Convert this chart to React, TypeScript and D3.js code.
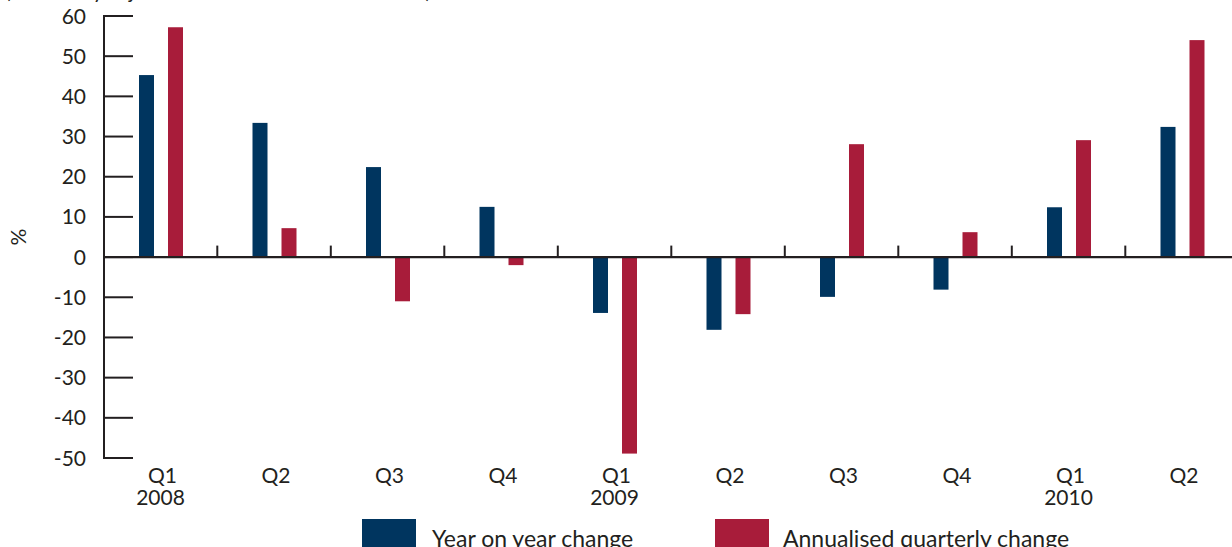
import React from "react";
import * as d3 from "d3";

const quarters = ["Q1", "Q2", "Q3", "Q4", "Q1", "Q2", "Q3", "Q4", "Q1", "Q2"];
const years = ["2008", "", "", "", "2009", "", "", "", "2010", ""];
const yearOnYear = [45.3, 33.4, 22.4, 12.5, -13.9, -18.1, -9.9, -8.1, 12.4, 32.4];
const annualised = [57.2, 7.2, -11.0, -2.0, -48.9, -14.2, 28.1, 6.2, 29.1, 54.0];
const seriesNames = ["Year on year change", "Annualised quarterly change"];
const seriesColors = ["#00355f", "#a81c3a"];
const yTicks = [60, 50, 40, 30, 20, 10, 0, -10, -20, -30, -40, -50];
const subtitle = "(Seasonally adjusted data in current dollar terms)";

const W = 1232;
const H = 547;
const FONT = "Lato, 'Open Sans', sans-serif";
const INK = "#231f20";

export default function App() {
  const idx = quarters.map((_, i) => String(i));
  const x = d3.scaleBand<string>().domain(idx).range([103.8, 103.8 + 113.5 * 10]).padding(0);
  const xi = d3
    .scaleBand<string>()
    .domain(["0", "1"])
    .range([35.2, 35.2 + 44])
    .paddingInner(14 / 29)
    .paddingOuter(0);
  const y = d3.scaleLinear().domain([-50, 60]).range([458, 16]);
  const y0 = y(0);
  const series = [yearOnYear, annualised];

  return (
    <svg
      width={W}
      height={H}
      style={{ position: "absolute", left: 0, top: 0, background: "#fff" }}
      fontFamily={FONT}
    >
      <text x={5} y={-2} fontSize={21} fill={INK} textLength={426} lengthAdjust="spacing">
        {subtitle}
      </text>

      {/* bars */}
      {series.map((vals, s) =>
        vals.map((v, i) => {
          const bx = (x(String(i)) as number) + (xi(String(s)) as number);
          const top = Math.min(y(v), y0);
          const h = Math.abs(y(v) - y0);
          return <rect key={`${s}-${i}`} x={bx} y={top} width={xi.bandwidth()} height={h} fill={seriesColors[s]} />;
        })
      )}

      {/* y axis */}
      <line x1={104} x2={104} y1={y(60) - 1} y2={y(-50) + 1} stroke={INK} strokeWidth={2} />
      {yTicks.map((t) => (
        <g key={t}>
          <line x1={104} x2={133} y1={y(t)} y2={y(t)} stroke={INK} strokeWidth={2} />
          <text x={86} y={y(t) + 7.5} fontSize={21} fill={INK} textAnchor="end">
            {t}
          </text>
        </g>
      ))}

      {/* x axis */}
      <line x1={104} x2={W} y1={y0} y2={y0} stroke={INK} strokeWidth={2.2} />
      {idx.slice(1).map((k) => (
        <line key={k} x1={x(k) as number} x2={x(k) as number} y1={y0} y2={y0 - 11.5} stroke={INK} strokeWidth={2} />
      ))}
      {quarters.map((q, i) => {
        const cx = (x(String(i)) as number) + x.bandwidth() / 2;
        return (
          <g key={i}>
            <text x={cx + 2} y={482.5} fontSize={21} fill={INK} textAnchor="middle">
              {q}
            </text>
            {years[i] && (
              <text x={cx} y={505} fontSize={21} fill={INK} textAnchor="middle">
                {years[i]}
              </text>
            )}
          </g>
        );
      })}

      <text
        x={0}
        y={0}
        fontSize={21}
        fill={INK}
        textAnchor="middle"
        transform={`translate(26,237) rotate(-90)`}
      >
        %
      </text>

      {/* legend */}
      <rect x={362} y={519} width={54} height={32} fill={seriesColors[0]} />
      <text x={432} y={547} fontSize={23} fill={INK}>
        {seriesNames[0]}
      </text>
      <rect x={715} y={519} width={54} height={32} fill={seriesColors[1]} />
      <text x={783} y={547} fontSize={23} fill={INK}>
        {seriesNames[1]}
      </text>
    </svg>
  );
}
